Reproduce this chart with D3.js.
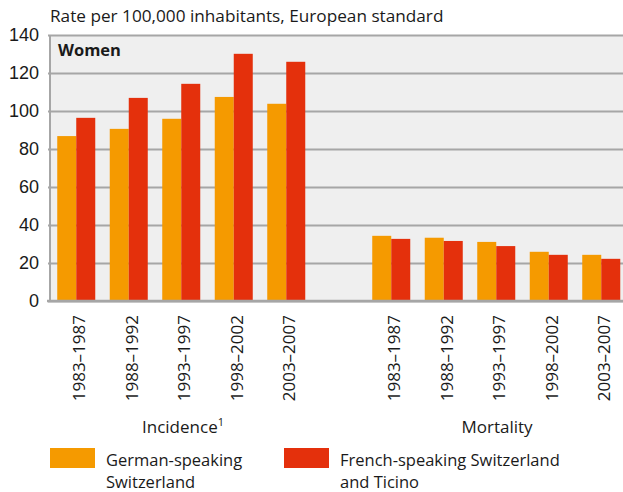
<!DOCTYPE html>
<html>
<head>
<meta charset="utf-8">
<script src="https://cdn.jsdelivr.net/npm/d3@7"></script>
<style>
  body { margin: 0; background: #fff; }
  svg { font-family: "Open Sans", "DejaVu Sans", sans-serif; }
</style>
</head>
<body>
<div id="chart"></div>
<script>
// data
var periods = ["1983–1987", "1988–1992", "1993–1997", "1998–2002", "2003–2007"];
var incidenceGerman = [86.8, 90.6, 95.9, 107.4, 103.8];
var incidenceFrench = [96.4, 106.9, 114.3, 130.1, 125.9];
var mortalityGerman = [34.3, 33.3, 31.1, 25.9, 24.3];
var mortalityFrench = [32.7, 31.6, 28.9, 24.3, 22.2];
var yTicks = [0, 20, 40, 60, 80, 100, 120, 140];
var seriesNames = [["German-speaking", "Switzerland"], ["French-speaking Switzerland", "and Ticino"]];
var colors = ["#f59a00", "#e4300c"];

var W = 623, H = 492;
var margin = {top: 35, left: 50, bottom: 191};
var plotBottom = H - margin.bottom; // 301

// slots: 5 incidence, 1 empty, 5 mortality
var slots = periods.map(function(p) { return "I|" + p; })
  .concat(["gap"])
  .concat(periods.map(function(p) { return "M|" + p; }));

var rows = [];
periods.forEach(function(p, i) {
  rows.push({slot: "I|" + p, label: p, values: [incidenceGerman[i], incidenceFrench[i]]});
});
periods.forEach(function(p, i) {
  rows.push({slot: "M|" + p, label: p, values: [mortalityGerman[i], mortalityFrench[i]]});
});

var svg = d3.select("#chart").append("svg")
  .attr("width", W)
  .attr("height", H);

var x = d3.scaleBand()
  .domain(slots)
  .range([margin.left, margin.left + 11 * 52.5])
  .paddingInner(0.276)
  .paddingOuter(0.138);

var x1 = d3.scaleBand()
  .domain([0, 1])
  .range([0, x.bandwidth()]);

var y = d3.scaleLinear()
  .domain([0, 140])
  .range([plotBottom, margin.top]);

// plot background
svg.append("rect")
  .attr("x", margin.left)
  .attr("y", margin.top)
  .attr("width", W - margin.left)
  .attr("height", plotBottom - margin.top)
  .attr("fill", "#efefef");

// gridlines + y axis
var yAxis = svg.append("g")
  .attr("transform", "translate(" + margin.left + ",0)")
  .call(d3.axisLeft(y).tickValues(yTicks).tickSize(-(W - margin.left)).tickPadding(11));
yAxis.select(".domain").remove();
yAxis.selectAll(".tick line")
  .attr("x1", -2)
  .attr("stroke", "#a6a6a6")
  .attr("stroke-width", 2);
yAxis.selectAll(".tick text")
  .attr("fill", "#1a1a1a")
  .style("font-size", "18px");

// left axis line
svg.append("line")
  .attr("x1", margin.left).attr("x2", margin.left)
  .attr("y1", margin.top).attr("y2", plotBottom)
  .attr("stroke", "#a6a6a6")
  .attr("stroke-width", 2);

// bars
var groups = svg.selectAll(".grp")
  .data(rows)
  .enter().append("g")
  .attr("transform", function(d) { return "translate(" + x(d.slot) + ",0)"; });

groups.selectAll("rect")
  .data(function(d) { return d.values; })
  .enter().append("rect")
  .attr("x", function(d, i) { return x1(i); })
  .attr("y", function(d) { return y(d); })
  .attr("width", x1.bandwidth())
  .attr("height", function(d) { return plotBottom - y(d); })
  .attr("fill", function(d, i) { return colors[i]; });

// baseline
svg.append("line")
  .attr("x1", margin.left - 3).attr("x2", W)
  .attr("y1", plotBottom).attr("y2", plotBottom)
  .attr("stroke", "#a6a6a6")
  .attr("stroke-width", 2.5);

// x tick labels, rotated
svg.selectAll(".xlab")
  .data(rows)
  .enter().append("text")
  .attr("transform", function(d) {
    return "translate(" + (x(d.slot) + x.bandwidth() / 2 + 9) + "," + (plotBottom + 14) + ") rotate(-90)";
  })
  .attr("text-anchor", "end")
  .attr("fill", "#1a1a1a")
  .style("font-size", "17px")
  .text(function(d) { return d.label; });

// title
svg.append("text")
  .attr("x", 50).attr("y", 22)
  .attr("fill", "#1a1a1a")
  .style("font-size", "17.2px")
  .text("Rate per 100,000 inhabitants, European standard");

svg.append("text")
  .attr("x", 58).attr("y", 56)
  .attr("fill", "#1a1a1a")
  .style("font-size", "16.5px")
  .style("font-weight", "bold")
  .text("Women");

// group labels
var inc = svg.append("text")
  .attr("x", 183).attr("y", 433)
  .attr("text-anchor", "middle")
  .attr("fill", "#1a1a1a")
  .style("font-size", "17px")
  .text("Incidence");
inc.append("tspan")
  .attr("dy", -7)
  .style("font-size", "11px")
  .text("1");

svg.append("text")
  .attr("x", 497).attr("y", 433)
  .attr("text-anchor", "middle")
  .attr("fill", "#1a1a1a")
  .style("font-size", "17px")
  .text("Mortality");

// legend
var legX = [50, 284];
var leg = svg.selectAll(".leg")
  .data(seriesNames)
  .enter().append("g")
  .attr("transform", function(d, i) { return "translate(" + legX[i] + ",448)"; });
leg.append("rect")
  .attr("width", 45).attr("height", 20)
  .attr("fill", function(d, i) { return colors[i]; });
leg.selectAll(".line")
  .data(function(d) { return d; })
  .enter().append("text")
  .attr("x", 56)
  .attr("y", function(d, i) { return 18 + i * 22; })
  .attr("fill", "#1a1a1a")
  .style("font-size", "16.5px")
  .text(function(d) { return d; });
</script>
</body>
</html>
